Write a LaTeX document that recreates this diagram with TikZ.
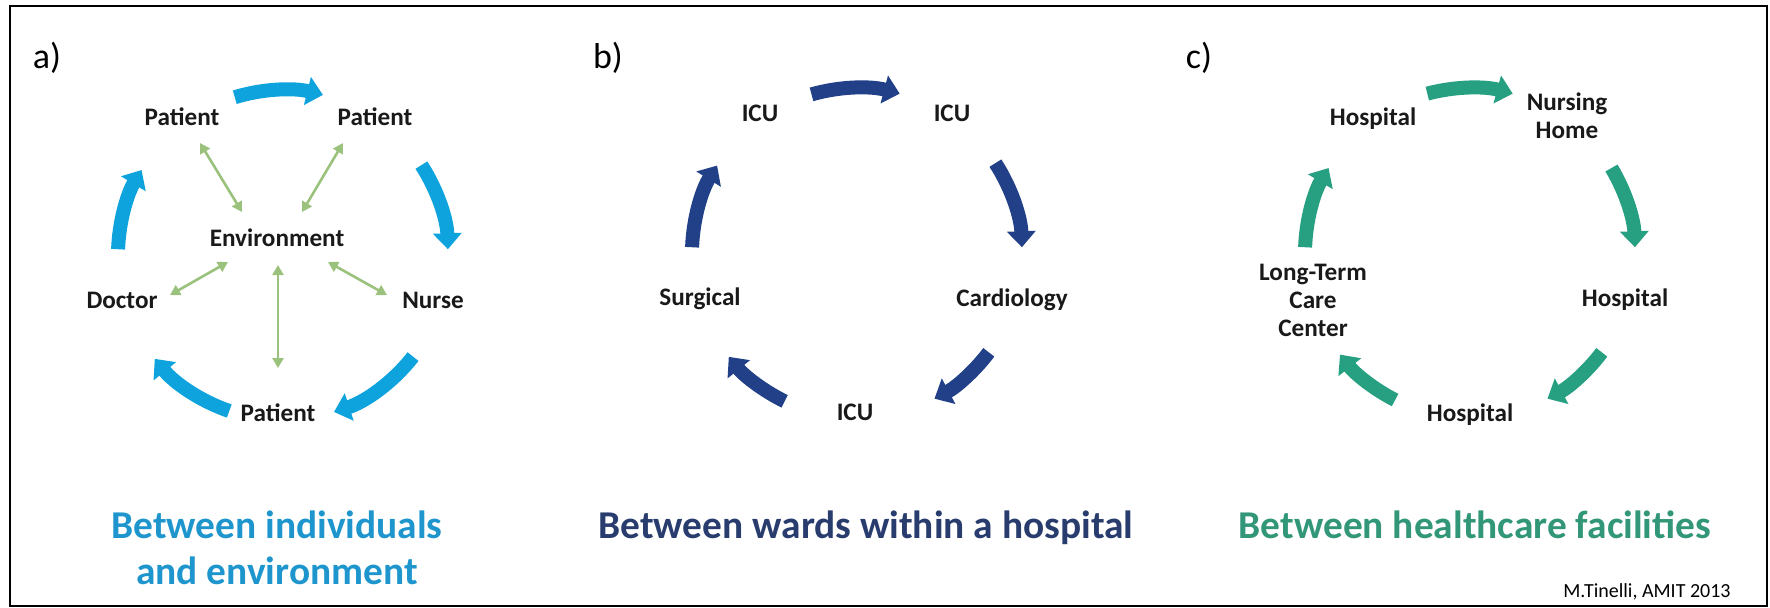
\documentclass[tikz,border=0pt]{standalone}
\usepackage{fontspec}
\setmainfont{Carlito}
\usetikzlibrary{arrows.meta}

\definecolor{cyanflow}{RGB}{15,163,222}
\definecolor{navyflow}{RGB}{33,64,135}
\definecolor{tealflow}{RGB}{38,160,128}
\definecolor{envgreen}{RGB}{155,194,125}
\definecolor{cyantitle}{RGB}{30,150,205}
\definecolor{navytitle}{RGB}{40,60,110}
\definecolor{tealtitle}{RGB}{50,150,120}
\definecolor{labeltext}{RGB}{25,25,25}

\tikzset{
  place/.style={font=\fontsize{12.6}{14}\selectfont\bfseries, text=labeltext, inner sep=0pt, text height=8pt, text depth=0pt},
  placetwo/.style={font=\fontsize{12.6}{14}\selectfont\bfseries, text=labeltext, inner sep=0pt, align=center},
  panel/.style={font=\fontsize{18}{20}\selectfont, inner sep=0pt},
  caption/.style={font=\fontsize{19.7}{23}\selectfont\bfseries, inner sep=0pt, align=center},
  flow/.style={line width=7pt, -{Triangle[length=8pt,width=14pt]}},
  envlink/.style={envgreen, line width=1.3pt, {Triangle[length=5pt,width=5.5pt]}-{Triangle[length=5pt,width=5.5pt]}}
}

\begin{document}
\begin{tikzpicture}[x=0.5pt, y=0.5pt]
            \useasboundingbox (0,0) rectangle (1770,-607);
            \draw[line width=1.1pt] (10,-6) rectangle (1767,-606);

            % a) individuals and environment
            \node[panel] (lbla) at (47,-58) {a)};
            \node[place] (pat1) at (182,-117) {Patient};
            \node[place] (pat2) at (375,-117) {Patient};
            \node[place] (nurse) at (433,-300) {Nurse};
            \node[place] (pat3) at (278,-413) {Patient};
            \node[place] (doctor) at (122,-300) {Doctor};
            \node[place] (env) at (277,-238) {Environment};
            \coordinate (ca) at (283,-255);

            \draw[flow, cyanflow] (ca) ++(107:165) arc[start angle=107, end angle=76, radius=165];
            \draw[flow, cyanflow] (ca) ++(33:165) arc[start angle=33, end angle=2, radius=165];
            \draw[flow, cyanflow] (ca) ++(-38:165) arc[start angle=-38, end angle=-72, radius=165];
            \draw[flow, cyanflow] (ca) ++(-109:165) arc[start angle=-109, end angle=-141, radius=165];
            \draw[flow, cyanflow] (ca) ++(178:165) arc[start angle=178, end angle=149, radius=165];

            \draw[envlink] ([shift={(-35,26)}]env.center) -- ([shift={(18,-26)}]pat1.center);
            \draw[envlink] ([shift={(25,26)}]env.center) -- ([shift={(-32,-26)}]pat2.center);
            \draw[envlink] ([shift={(-49,-24)}]env.center) -- ([shift={(48,5)}]doctor.center);
            \draw[envlink] ([shift={(51,-24)}]env.center) -- ([shift={(-46,5)}]nurse.center);
            \draw[envlink] ([shift={(1,-27)}]env.center) -- ([shift={(0,45)}]pat3.center);

            % b) wards within a hospital
            \node[panel] (lblb) at (608,-58) {b)};
            \node[place] (icu1) at (760,-113) {ICU};
            \node[place] (icu2) at (952,-113) {ICU};
            \node[place] (cardio) at (1012,-298) {Cardiology};
            \node[place] (icu3) at (855,-412) {ICU};
            \node[place] (surg) at (700,-297) {Surgical};
            \coordinate (cb) at (857,-253);

            \draw[flow, navyflow] (cb) ++(106:165) arc[start angle=106, end angle=75, radius=165];
            \draw[flow, navyflow] (cb) ++(33:165) arc[start angle=33, end angle=2, radius=165];
            \draw[flow, navyflow] (cb) ++(-37:165) arc[start angle=-37, end angle=-62, radius=165];
            \draw[flow, navyflow] (cb) ++(-116:165) arc[start angle=-116, end angle=-141, radius=165];
            \draw[flow, navyflow] (cb) ++(178:165) arc[start angle=178, end angle=148, radius=165];

            % c) healthcare facilities
            \node[panel] (lblc) at (1199,-58) {c)};
            \node[place] (hosp1) at (1373,-117) {Hospital};
            \node[placetwo] (nhome) at (1567,-116) {Nursing\\Home};
            \node[place] (hosp2) at (1625,-298) {Hospital};
            \node[place] (hosp3) at (1470,-413) {Hospital};
            \node[placetwo] (ltcc) at (1313,-300) {Long-Term\\Care\\Center};
            \coordinate (cc) at (1470,-253);

            \draw[flow, tealflow] (cc) ++(105:165) arc[start angle=105, end angle=75, radius=165];
            \draw[flow, tealflow] (cc) ++(31:165) arc[start angle=31, end angle=2, radius=165];
            \draw[flow, tealflow] (cc) ++(-37:165) arc[start angle=-37, end angle=-62, radius=165];
            \draw[flow, tealflow] (cc) ++(-117:165) arc[start angle=-117, end angle=-142, radius=165];
            \draw[flow, tealflow] (cc) ++(178:165) arc[start angle=178, end angle=149, radius=165];

            % captions
            \node[caption, text=cyantitle, anchor=base] (capa) at (277,-584) {Between individuals\\and environment};
            \node[caption, text=navytitle, anchor=base] (capb) at (866,-538) {Between wards within a hospital};
            \node[caption, text=tealtitle, anchor=base] (capc) at (1475,-538) {Between healthcare facilities};
            \node[font=\fontsize{10}{12}\selectfont, anchor=base east, inner sep=0pt] (credit) at (1731,-597) {M.Tinelli, AMIT 2013};
        \end{tikzpicture}
\end{document}
